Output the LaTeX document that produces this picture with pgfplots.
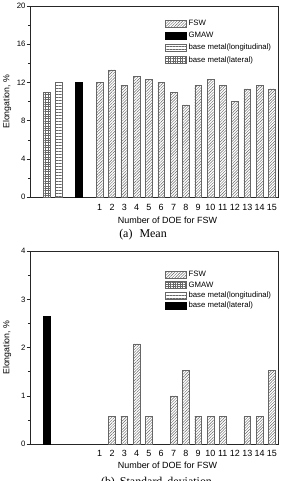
\documentclass[border=0pt]{standalone}
\usepackage{fontspec}
\setmainfont{Liberation Sans}
\newfontfamily\capfont{Liberation Serif}
\usepackage{pgfplots}
\pgfplotsset{compat=1.18}
\usetikzlibrary{patterns.meta}

\pgfplotsset{
  barbase/.style={ybar, bar width=6.7bp, bar shift=0pt, line width=0.45bp},
  fswbar/.style={barbase, draw=black!60, pattern={Lines[angle=45,distance=2bp,line width=0.45bp]}, pattern color=black!60},
  gmawbar/.style={barbase, draw=black, fill=black},
  longbar/.style={barbase, draw=black!60, pattern={Lines[angle=0,distance=3bp,line width=0.45bp]}, pattern color=black!60},
  latbar/.style={barbase, draw=black!60, pattern={Hatch[angle=0,distance=2.4bp,line width=0.45bp]}, pattern color=black!60},
  elong/.style={
    scale only axis, width=248.5bp,
    xmin=-4.67, xmax=15.54, ymin=0,
    axis line style={line width=0.7bp, black!85},
    xtick={1,...,15}, major x tick style={draw=none},
    tick align=outside, ytick pos=left,
    major tick length=3.3bp, minor tick length=2bp,
    every tick/.style={black!85, line width=0.6bp},
    minor y tick num=1,
    /pgf/number format/assume math mode=true,
    yticklabel style={font=\fontsize{7.8}{8}\selectfont, inner sep=1bp},
    xticklabel style={font=\fontsize{9}{9}\selectfont, anchor=base, inner sep=0pt},
    every axis y label/.style={at={(axis description cs:-0.0926,0.5)}, rotate=90, anchor=center, font=\fontsize{8.8}{9}\selectfont},
    xlabel={Number of DOE for FSW},
    ylabel={Elongation, \%},
    legend cell align=left,
    legend image code/.code={\draw[##1] (0bp,-3.5bp) rectangle (21bp,3.5bp);},
  }
}

\begin{document}
\begin{tikzpicture}
\useasboundingbox (0,0) rectangle (285bp,-481bp);

% mean elongation
\begin{axis}[elong,
  at={(30bp,-6bp)}, anchor=north west, height=191.3bp,
  ymax=20, ytick={0,4,...,20},
  xticklabel style={yshift=-9.5bp},
  every axis x label/.style={at={(axis description cs:0.553,-0.1213)}, anchor=center, font=\fontsize{9}{9}\selectfont},
  legend style={at={(axis description cs:0.543,0.9286)}, anchor=north west, draw=none, fill=none,
    inner sep=0pt, font=\fontsize{7.8}{8}\selectfont, row sep=4.7bp, column sep=2bp,
    nodes={inner sep=0pt, text height=5.6bp, text depth=1.4bp}},
]
\addplot[fswbar] coordinates {(1,12) (2,13.33) (3,11.67) (4,12.67) (5,12.33) (6,12) (7,11) (8,9.67) (9,11.67) (10,12.33) (11,11.67) (12,10) (13,11.33) (14,11.67) (15,11.33)};
\addlegendentry{FSW}
\addplot[gmawbar] coordinates {(-0.68,12)};
\addlegendentry{GMAW}
\addplot[longbar] coordinates {(-2.33,12)};
\addlegendentry{base metal(longitudinal)}
\addplot[latbar] coordinates {(-3.31,11)};
\addlegendentry{base metal(lateral)}
\end{axis}

% standard deviation of elongation
\begin{axis}[elong,
  at={(30bp,-251.3bp)}, anchor=north west, height=192.7bp,
  ymax=4, ytick={0,1,...,4},
  xticklabel style={yshift=-9.3bp},
  every axis x label/.style={at={(axis description cs:0.553,-0.1116)}, anchor=center, font=\fontsize{9}{9}\selectfont},
  legend style={at={(axis description cs:0.543,0.8988)}, anchor=north west, draw=none, fill=none,
    inner sep=0pt, font=\fontsize{7.8}{8}\selectfont, row sep=2.9bp, column sep=2bp,
    nodes={inner sep=0pt, text height=5.6bp, text depth=1.4bp}},
]
\addplot[fswbar] coordinates {(2,0.58) (3,0.58) (4,2.08) (5,0.58) (7,1.0) (8,1.53) (9,0.58) (10,0.58) (11,0.58) (13,0.58) (14,0.58) (15,1.53)};
\addlegendentry{FSW}
\addlegendimage{latbar}
\addlegendentry{GMAW}
\addlegendimage{longbar}
\addlegendentry{base metal(longitudinal)}
\addplot[gmawbar] coordinates {(-3.31,2.65)};
\addlegendentry{base metal(lateral)}
\end{axis}

\node[font=\capfont\fontsize{12}{12}\selectfont, anchor=north, inner sep=0pt] at (143bp,-229bp) {(a)\hspace{7bp}Mean};
\node[font=\capfont\fontsize{12}{12}\selectfont, anchor=north, inner sep=0pt] at (156.5bp,-476.5bp) {(b)\hspace{5bp}Standard\hspace{5bp}deviation};
\end{tikzpicture}
\end{document}
